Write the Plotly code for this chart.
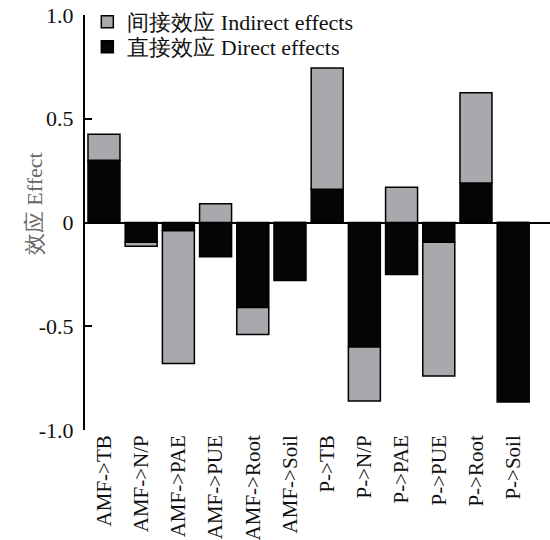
import plotly.graph_objects as go

# Path labels and standardized effects
paths = ["AMF->TB", "AMF->N/P", "AMF->PAE", "AMF->PUE", "AMF->Root", "AMF->Soil",
         "P->TB", "P->N/P", "P->PAE", "P->PUE", "P->Root", "P->Soil"]
direct = [0.30, -0.095, -0.04, -0.165, -0.41, -0.28, 0.16, -0.60, -0.25, -0.095, 0.19, -0.865]
indirect = [0.125, -0.02, -0.64, 0.09, -0.13, 0.0, 0.585, -0.26, 0.17, -0.645, 0.435, 0.0]

y_ticks = [1.0, 0.5, 0, -0.5, -1.0]
y_tick_text = ["1.0", "0.5", "0", "-0.5", "-1.0"]

FONT = "Liberation Serif"

fig = go.Figure()
fig.add_trace(go.Bar(
    x=paths, y=direct, name="直接效应 Direct effects", legend="legend2",
    marker=dict(color="#050505", line=dict(color="#000000", width=1.5)),
))
fig.add_trace(go.Bar(
    x=paths, y=indirect, name="间接效应 Indirect effects", legend="legend",
    marker=dict(color="#a8a9ac", line=dict(color="#000000", width=1.5)),
))

legend_style = dict(xanchor="left", yanchor="middle", bgcolor="rgba(0,0,0,0)",
                    font=dict(family=FONT, size=22, color="#111111"), itemwidth=30)

fig.update_layout(
    width=550, height=540,
    margin=dict(l=85, r=0, t=15, b=110),
    barmode="relative", bargap=0.14,
    plot_bgcolor="white", paper_bgcolor="white",
    font=dict(family=FONT, size=20, color="#111111"),
    showlegend=True,
    legend=dict(x=0.005, y=0.983, **legend_style),
    legend2=dict(x=0.005, y=0.923, **legend_style),
)
fig.update_xaxes(
    range=[-0.51, 11.99], showline=False, showgrid=False, ticks="",
    tickangle=-90, tickfont=dict(family=FONT, size=21),
)
fig.update_yaxes(
    range=[-1.0, 1.0], tickvals=y_ticks, ticktext=y_tick_text,
    showline=True, linecolor="black", linewidth=2,
    ticks="inside", ticklen=7, tickwidth=2, tickcolor="black",
    showgrid=False, zeroline=True, zerolinecolor="black", zerolinewidth=1.5,
    tickfont=dict(family=FONT, size=22), ticklabelstandoff=5,
)
fig.add_annotation(
    text="效应 Effect", textangle=-90, showarrow=False,
    xref="paper", yref="paper", x=-0.14, y=0.545,
    font=dict(family=FONT, size=22, color="#666666"),
)

fig.write_html("out.html")
